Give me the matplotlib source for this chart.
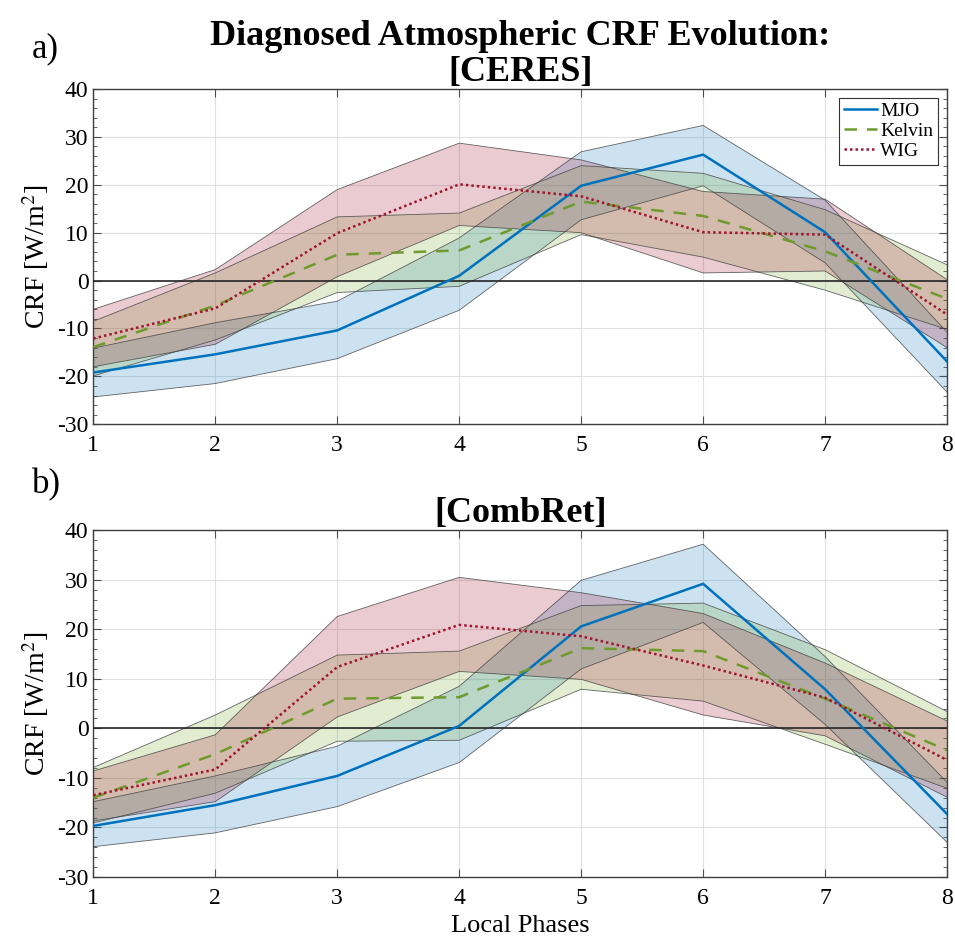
import matplotlib
matplotlib.use("Agg")
import matplotlib.pyplot as plt
from matplotlib.ticker import MultipleLocator

plt.rcParams['font.family'] = ['Liberation Serif', 'DejaVu Serif']
plt.rcParams['mathtext.fontset'] = 'stix'
plt.rcParams['axes.unicode_minus'] = False

phases = [1, 2, 3, 4, 5, 6, 7, 8]

# [CERES]
ceres_mjo = [-19.2, -15.4, -10.4, 1.0, 19.8, 26.3, 10.1, -16.9]
ceres_mjo_hi = [-14.1, -8.8, -4.3, 8.9, 26.9, 32.4, 16.8, -10.8]
ceres_mjo_lo = [-24.3, -21.5, -16.3, -6.2, 12.7, 19.8, 3.7, -23.3]
ceres_kel = [-13.9, -5.2, 5.4, 6.3, 16.5, 13.5, 6.1, -3.8]
ceres_kel_hi = [-8.5, 1.6, 13.3, 14.1, 24.0, 22.4, 14.8, 3.3]
ceres_kel_lo = [-19.9, -12.4, -2.5, -1.2, 9.6, 4.9, -2.0, -10.2]
ceres_wig = [-12.1, -5.8, 9.9, 20.1, 17.6, 10.1, 9.6, -7.1]
ceres_wig_hi = [-6.0, 2.3, 19.0, 28.7, 25.2, 18.6, 17.0, 0.2]
ceres_wig_lo = [-18.0, -13.3, 0.8, 11.5, 10.0, 1.6, 2.0, -14.0]

# [CombRet]
comb_mjo = [-19.7, -15.5, -9.6, 0.5, 20.6, 29.2, 7.9, -17.3]
comb_mjo_hi = [-14.8, -9.6, -3.6, 8.5, 29.9, 37.2, 14.5, -10.9]
comb_mjo_lo = [-23.9, -21.1, -15.8, -6.9, 12.0, 21.4, 0.8, -23.0]
comb_kel = [-14.0, -5.2, 6.0, 6.3, 16.2, 15.6, 6.0, -4.4]
comb_kel_hi = [-7.9, 2.7, 14.8, 15.6, 24.8, 25.3, 15.9, 3.4]
comb_kel_lo = [-19.1, -13.1, -2.6, -2.4, 7.9, 5.5, -3.2, -12.1]
comb_wig = [-13.5, -8.3, 12.4, 20.9, 18.6, 12.7, 6.2, -6.4]
comb_wig_hi = [-8.6, -1.3, 22.6, 30.5, 27.4, 23.2, 13.2, 1.5]
comb_wig_lo = [-18.7, -14.8, 2.3, 11.5, 9.9, 2.7, -1.5, -13.9]

c_mjo = '#0072BD'
c_kel = '#77AC30'
c_kel_line = '#6E9A2E'
c_wig = '#A2142F'


def draw_panel(ax, mjo, mjo_hi, mjo_lo, kel, kel_hi, kel_lo, wig, wig_hi, wig_lo, legend=False):
    ax.fill_between(phases, mjo_lo, mjo_hi, facecolor=c_mjo, alpha=0.2, zorder=2)
    ax.fill_between(phases, kel_lo, kel_hi, facecolor=c_kel, alpha=0.22, zorder=2)
    ax.fill_between(phases, wig_lo, wig_hi, facecolor=c_wig, alpha=0.22, zorder=2)
    for lo, hi in [(mjo_lo, mjo_hi), (kel_lo, kel_hi), (wig_lo, wig_hi)]:
        ax.plot(phases, lo, color='0.25', lw=0.6, alpha=0.8, zorder=3)
        ax.plot(phases, hi, color='0.25', lw=0.6, alpha=0.8, zorder=3)
    ax.axhline(0, color='0.15', lw=1.2, zorder=3)
    ax.plot(phases, mjo, color=c_mjo, lw=1.8, label='MJO', zorder=4)
    ax.plot(phases, kel, color=c_kel_line, lw=1.8, ls=(0, (5, 4)), label='Kelvin', zorder=4)
    ax.plot(phases, wig, color=c_wig, lw=1.8, ls=(0, (1, 1.2)), label='WIG', zorder=4)

    ax.set_xlim(1, 8)
    ax.set_ylim(-30, 40)
    ax.set_xticks(phases)
    ax.set_yticks(range(-30, 41, 10))
    ax.yaxis.set_minor_locator(MultipleLocator(2))
    ax.grid(True, color='0.88', lw=0.8, zorder=0)
    ax.set_axisbelow(True)
    ax.tick_params(which='both', direction='in', top=True, right=True,
                   labelsize=17, color='0.3')
    ax.tick_params(which='major', length=6)
    ax.tick_params(which='minor', length=3)
    ax.tick_params(axis='x', pad=8)
    for s in ax.spines.values():
        s.set_color('0.25')
        s.set_linewidth(1.0)
    ax.set_ylabel('CRF [W/m$^2$]', fontsize=20, labelpad=4)
    if legend:
        leg = ax.legend(loc='upper right', fontsize=14, handlelength=1.7,
                        handletextpad=0.2, borderpad=0.25, labelspacing=0.12,
                        fancybox=False, framealpha=1, borderaxespad=0.45)
        leg.get_frame().set_edgecolor('0.2')
        leg.get_frame().set_linewidth(0.8)


fig = plt.figure(figsize=(9.55, 9.47), dpi=100)
ax1 = fig.add_axes([0.0977, 0.552, 0.894, 0.354])
ax2 = fig.add_axes([0.0977, 0.074, 0.894, 0.366])

draw_panel(ax1, ceres_mjo, ceres_mjo_hi, ceres_mjo_lo, ceres_kel, ceres_kel_hi, ceres_kel_lo,
           ceres_wig, ceres_wig_hi, ceres_wig_lo, legend=True)
draw_panel(ax2, comb_mjo, comb_mjo_hi, comb_mjo_lo, comb_kel, comb_kel_hi, comb_kel_lo,
           comb_wig, comb_wig_hi, comb_wig_lo)

ax1.set_title('Diagnosed Atmospheric CRF Evolution:\n[CERES]', fontsize=26,
              fontweight='bold', linespacing=1.12, pad=4)
ax2.set_title('[CombRet]', fontsize=26, fontweight='bold', pad=4)
ax2.set_xlabel('Local Phases', fontsize=19, labelpad=4)

fig.text(0.033, 0.966, 'a)', fontsize=25, va='top', ha='left')
fig.text(0.033, 0.506, 'b)', fontsize=25, va='top', ha='left')

fig.savefig('out.png', dpi=100)
